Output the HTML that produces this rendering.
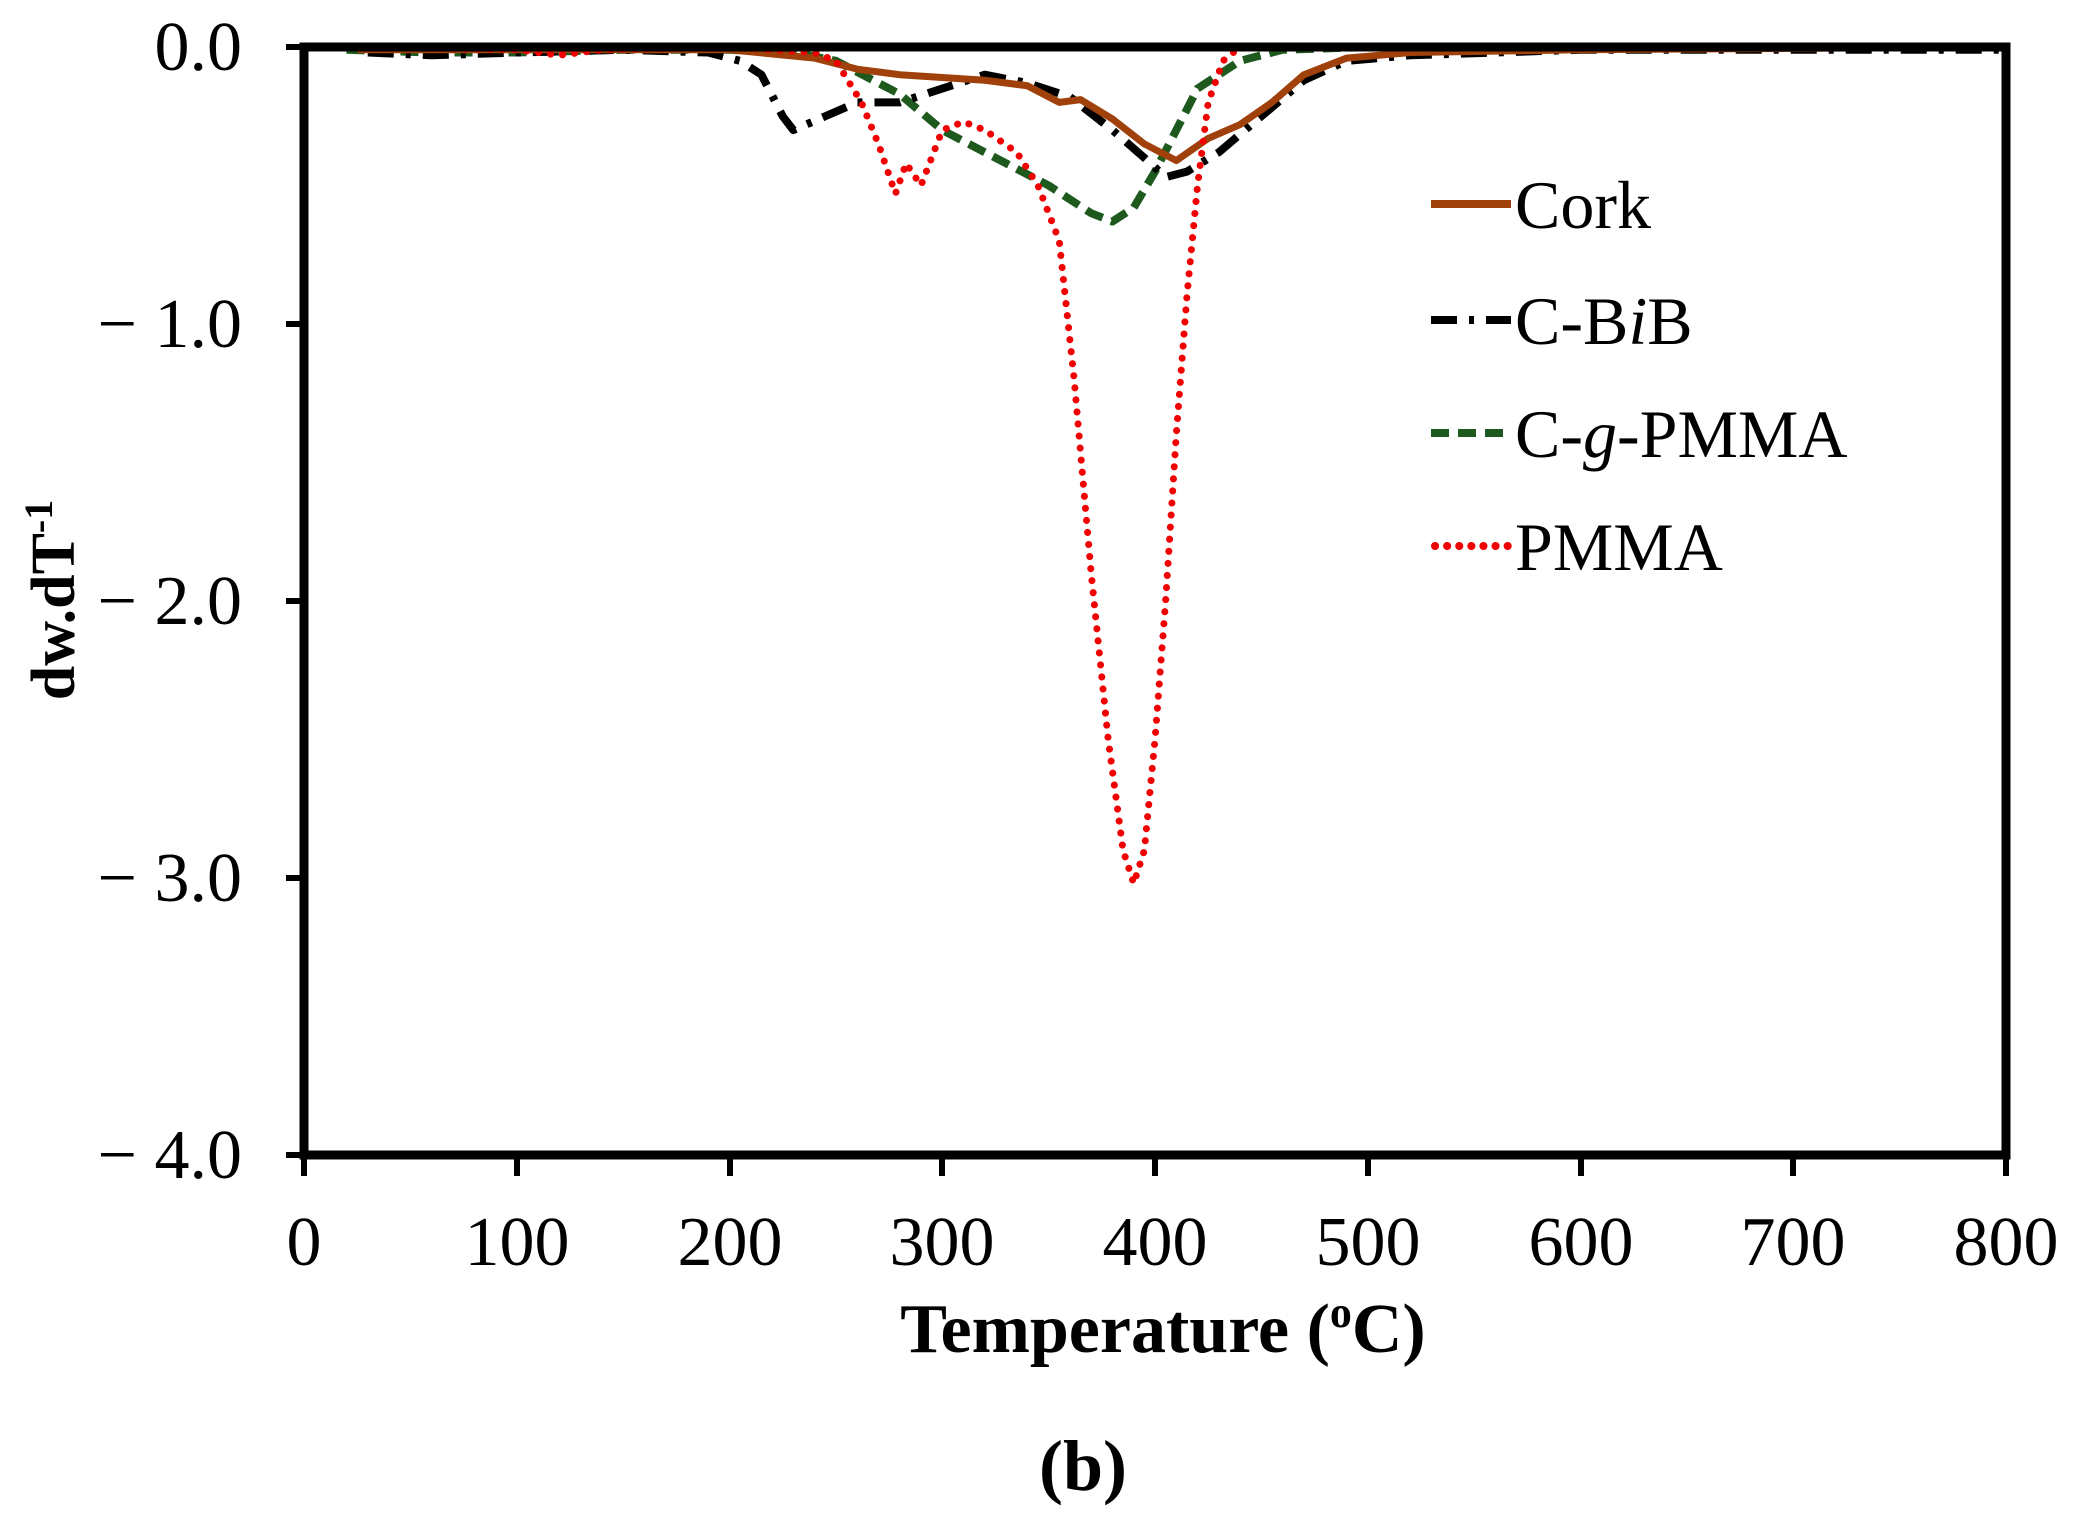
<!DOCTYPE html>
<html><head><meta charset="utf-8"><style>
html,body{margin:0;padding:0;background:#fff;}
svg{display:block;}
text{font-family:"Liberation Serif",serif;fill:#000;}
</style></head><body>
<svg width="2077" height="1528" viewBox="0 0 2077 1528">
<g transform="matrix(2.1275,0,0,-277,304,47)" fill="none" stroke-linejoin="round">
<path vector-effect="non-scaling-stroke" stroke="#1e5a1e" stroke-width="8" stroke-dasharray="18 9" d="M20,-0.01 L60,-0.02 L100,-0.02 L150,-0.01 L200,-0.01 L230,-0.02 L250,-0.05 L280,-0.17 L300,-0.3 L330,-0.42 L350,-0.5 L370,-0.6 L380,-0.63 L390,-0.58 L400,-0.45 L410,-0.3 L420,-0.15 L440,-0.05 L460,-0.01 L500,0 L800,0"/>
<path vector-effect="non-scaling-stroke" stroke="#000" stroke-width="8" stroke-dasharray="26 12 5 12" d="M30,-0.02 L60,-0.03 L100,-0.02 L150,-0.01 L190,-0.02 L205,-0.05 L215,-0.1 L225,-0.25 L230,-0.3 L245,-0.25 L260,-0.2 L280,-0.2 L300,-0.15 L320,-0.1 L340,-0.13 L360,-0.18 L380,-0.3 L395,-0.4 L405,-0.47 L415,-0.45 L430,-0.38 L450,-0.25 L470,-0.12 L490,-0.05 L520,-0.03 L600,-0.01 L800,-0.01"/>
<path vector-effect="non-scaling-stroke" stroke="#a0400a" stroke-width="7" d="M25,-0.01 L100,-0.01 L200,-0.01 L240,-0.04 L260,-0.08 L280,-0.1 L300,-0.11 L320,-0.12 L340,-0.14 L355,-0.2 L365,-0.19 L380,-0.26 L395,-0.35 L410,-0.41 L425,-0.33 L440,-0.28 L455,-0.2 L470,-0.1 L490,-0.04 L520,-0.02 L600,-0.01 L800,0"/>
<path vector-effect="non-scaling-stroke" stroke="#f00000" stroke-width="7" stroke-linecap="round" stroke-dasharray="0.1 12" d="M25,0 L100,-0.01 L120,-0.03 L140,-0.01 L200,0 L240,-0.02 L250,-0.05 L262,-0.2 L270,-0.35 L278,-0.53 L283,-0.42 L290,-0.5 L300,-0.3 L310,-0.27 L320,-0.3 L335,-0.38 L345,-0.5 L355,-0.7 L362,-1.2 L370,-1.9 L378,-2.5 L385,-2.9 L390,-3.02 L395,-2.9 L400,-2.5 L405,-2.0 L410,-1.4 L415,-0.9 L420,-0.5 L425,-0.2 L432,-0.05 L440,0 L800,0"/>
</g>
<g stroke="#000" stroke-width="9" fill="none">
<rect x="304" y="47" width="1702" height="1108"/>
</g>
<g stroke="#000" stroke-width="6">
<line x1="286" y1="47" x2="304" y2="47"/><line x1="286" y1="324" x2="304" y2="324"/><line x1="286" y1="601" x2="304" y2="601"/><line x1="286" y1="878" x2="304" y2="878"/><line x1="286" y1="1155" x2="304" y2="1155"/>
<line x1="304" y1="1155" x2="304" y2="1176"/><line x1="517" y1="1155" x2="517" y2="1176"/><line x1="730" y1="1155" x2="730" y2="1176"/><line x1="942" y1="1155" x2="942" y2="1176"/><line x1="1155" y1="1155" x2="1155" y2="1176"/><line x1="1368" y1="1155" x2="1368" y2="1176"/><line x1="1581" y1="1155" x2="1581" y2="1176"/><line x1="1793" y1="1155" x2="1793" y2="1176"/><line x1="2006" y1="1155" x2="2006" y2="1176"/>
</g>
<g font-size="70" text-anchor="end">
<text x="242" y="70">0.0</text>
<text x="242" y="347">− 1.0</text>
<text x="242" y="624">− 2.0</text>
<text x="242" y="901">− 3.0</text>
<text x="242" y="1178">− 4.0</text>
</g>
<g font-size="70" text-anchor="middle">
<text x="304" y="1265">0</text><text x="517" y="1265">100</text><text x="730" y="1265">200</text><text x="942" y="1265">300</text><text x="1155" y="1265">400</text><text x="1368" y="1265">500</text><text x="1581" y="1265">600</text><text x="1793" y="1265">700</text><text x="2006" y="1265">800</text>
</g>
<text x="1163" y="1352" font-size="70" font-weight="bold" text-anchor="middle">Temperature (<tspan font-size="44" dy="-25">o</tspan><tspan dy="25">C)</tspan></text>
<text x="1083" y="1490" font-size="72" font-weight="bold" text-anchor="middle">(b)</text>
<text transform="translate(74,600) rotate(-90)" font-size="62" font-weight="bold" text-anchor="middle">dw.dT<tspan font-size="40" dy="-22">-1</tspan></text>
<g stroke-width="8" fill="none">
<line x1="1431" y1="204" x2="1511" y2="204" stroke="#a0400a"/>
<line x1="1431" y1="320" x2="1511" y2="320" stroke="#000" stroke-dasharray="26 12 5 12"/>
<line x1="1431" y1="433" x2="1511" y2="433" stroke="#1e5a1e" stroke-dasharray="18 9"/>
<line x1="1435" y1="546" x2="1511" y2="546" stroke="#f00000" stroke-linecap="round" stroke-dasharray="0.1 12"/>
</g>
<g font-size="68">
<text x="1515" y="228">Cork</text>
<text x="1515" y="344">C-B<tspan font-style="italic">i</tspan>B</text>
<text x="1515" y="457">C-<tspan font-style="italic">g</tspan>-PMMA</text>
<text x="1515" y="570">PMMA</text>
</g>
</svg>
</body></html>
